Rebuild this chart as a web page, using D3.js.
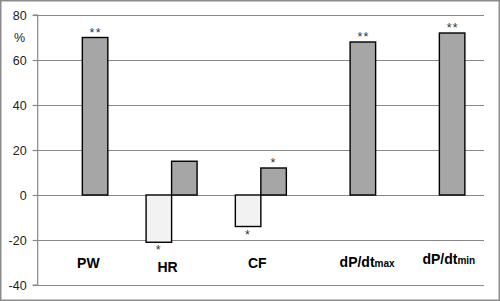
<!DOCTYPE html>
<html><head><meta charset="utf-8">
<script src="https://cdn.jsdelivr.net/npm/d3@7"></script>
<style>
body{margin:0;background:#fff;}
svg{display:block;}
</style></head>
<body>
<script>
const categories = ["PW", "HR", "CF", "dP/dtmax", "dP/dtmin"];
const seriesNames = ["light", "dark"];
const lightValues = [null, -21, -14, null, null];
const darkValues = [70, 15, 12, 68, 72];
const lightStars = ["", "*", "*", "", ""];
const darkStars = ["**", "", "*", "**", "**"];
const yTicks = [-40, -20, 0, 20, 40, 60, 80];
const yUnit = "%";

(function () {
const W = 500, H = 301;
const svg = d3.select("body").append("svg").attr("width", W).attr("height", H);

svg.append("rect").attr("x", 0.75).attr("y", 0.75).attr("width", W - 1.5).attr("height", H - 1.5)
  .attr("fill", "#fff").attr("stroke", "#8c8c8c").attr("stroke-width", 1.5);

const pLeft = 37.7, pRight = 484, pTop = 15, pBottom = 285;
const y = d3.scaleLinear().domain([-40, 80]).range([pBottom, pTop]);
const x0 = d3.scaleBand().domain(categories).range([pLeft, pRight]).padding(0);
const bw = x0.bandwidth() / 3.5;
const x1 = d3.scaleBand().domain(seriesNames).range([-bw, bw]).padding(0);

const grid = "#888888";
// gridlines
svg.append("g").selectAll("line").data(yTicks).join("line")
  .attr("x1", pLeft).attr("x2", pRight)
  .attr("y1", d => Math.round(y(d)) + 0.5).attr("y2", d => Math.round(y(d)) + 0.5)
  .attr("stroke", grid).attr("stroke-width", 1.2);

// y axis
const yAxis = d3.axisLeft(y).tickValues(yTicks).tickSize(5).tickPadding(6).tickFormat(d => String(d));
const gy = svg.append("g").attr("transform", `translate(${pLeft},0)`).call(yAxis);
gy.select(".domain").attr("stroke", grid).attr("stroke-width", 1.2).attr("d", `M-5,${pTop}H0V${pBottom}H-5`);
gy.selectAll(".tick line").attr("stroke", grid).attr("stroke-width", 1.2);
gy.selectAll(".tick text").attr("font-family", "Liberation Sans, Arial, sans-serif").attr("font-size", 12.5).attr("fill", "#222");
gy.selectAll(".tick").attr("transform", d => `translate(0,${Math.round(y(d)) + 0.5})`);

svg.append("text").attr("x", 25).attr("y", y(70) + 4.5).attr("text-anchor", "end")
  .attr("font-family", "Liberation Sans, Arial, sans-serif").attr("font-size", 12.5).attr("fill", "#222").text(yUnit);

// bars
const rows = categories.map((c, i) => ({c, i, light: lightValues[i], dark: darkValues[i]}));
const fills = {light: "#f2f2f2", dark: "#a6a6a6"};
const stars = {light: lightStars, dark: darkStars};
const barData = [];
rows.forEach(r => seriesNames.forEach(s => { if (r[s] !== null) barData.push({c: r.c, i: r.i, s, v: r[s]}); }));

svg.append("g").selectAll("rect").data(barData).join("rect")
  .attr("x", d => x0(d.c) + x0.bandwidth() / 2 + x1(d.s))
  .attr("width", x1.bandwidth())
  .attr("y", d => y(Math.max(0, d.v)))
  .attr("height", d => Math.abs(y(d.v) - y(0)))
  .attr("fill", d => fills[d.s]).attr("stroke", "#000").attr("stroke-width", 1.4);

// significance stars
svg.append("g").selectAll("text").data(barData.filter(d => stars[d.s][d.i])).join("text")
  .attr("x", d => x0(d.c) + x0.bandwidth() / 2 + x1(d.s) + x1.bandwidth() / 2 + (stars[d.s][d.i].length > 1 ? 0.6 : 0))
  .attr("y", d => d.v >= 0 ? y(d.v) - 1 : y(d.v) + 12)
  .attr("text-anchor", "middle")
  .attr("font-family", "Liberation Sans, Arial, sans-serif").attr("font-size", 12.5).attr("fill", "#333")
  .attr("letter-spacing", 1.2)
  .text(d => stars[d.s][d.i]);

// category labels (manually placed text boxes)
const labelDx = [6, -4, -3.5, 17, 9.4];
const labelBase = [268.3, 271.5, 268.3, 267.3, 264.3];
const lab = svg.append("g").attr("font-family", "Liberation Sans, Arial, sans-serif").attr("font-weight", "bold").attr("fill", "#000");
categories.forEach((c, i) => {
  const t = lab.append("text").attr("x", x0(c) + x0.bandwidth() / 2 + labelDx[i]).attr("y", labelBase[i])
    .attr("text-anchor", "middle").attr("font-size", 14);
  const m = c.match(/^(dP\/dt)(.*)$/);
  if (m) {
    t.append("tspan").text(m[1]);
    t.append("tspan").attr("font-size", 10).text(m[2]);
  } else t.text(c);
});
})();
</script>
</body></html>
